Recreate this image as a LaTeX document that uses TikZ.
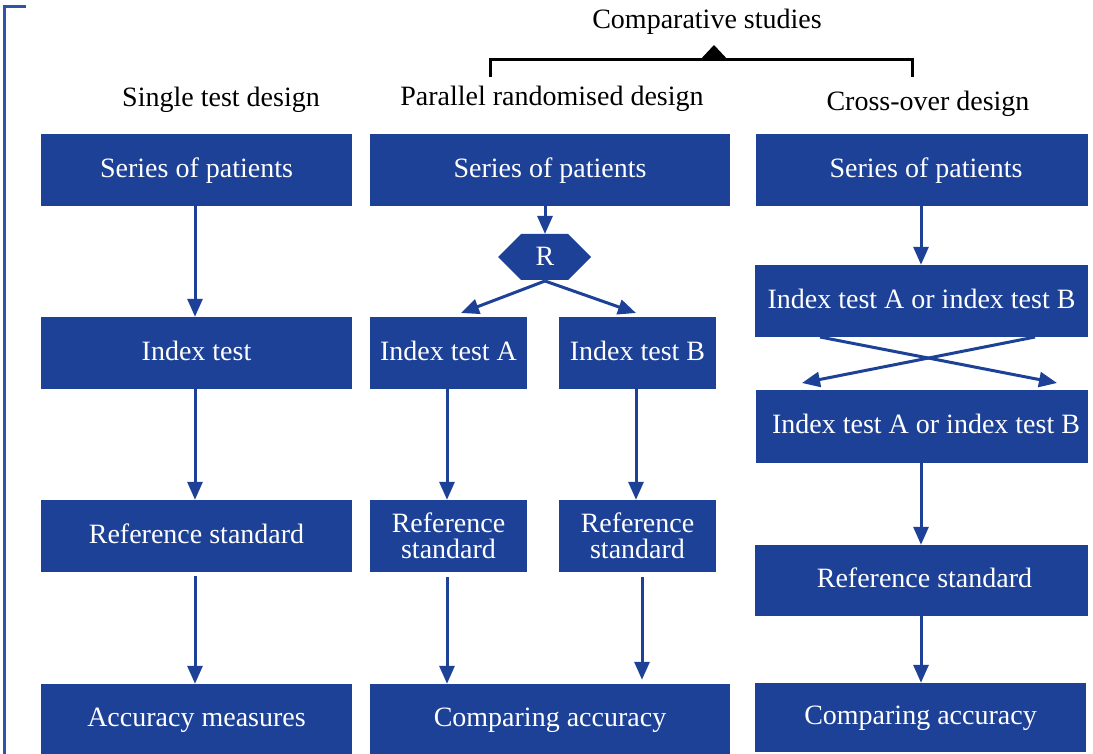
\documentclass[tikz,border=0pt]{standalone}
\usepackage{fontspec}
\setmainfont{Liberation Serif}
\usetikzlibrary{arrows.meta,calc}
\definecolor{boxblue}{RGB}{29,65,151}
\definecolor{lineblue}{RGB}{48,82,168}
\begin{document}
\begin{tikzpicture}[x=1pt,y=-1pt,
  boxbase/.style={fill=boxblue, text=white, font=\fontsize{28}{26}\selectfont,
    inner sep=0pt, align=center},
  box/.style={boxbase, text height=18.5pt, text depth=4pt},
  head/.style={text=black, font=\fontsize{28}{30}\selectfont, inner sep=0pt, anchor=base},
  arr/.style={draw=boxblue, line width=3pt, -{Triangle[length=18pt,width=15pt]}},
  brk/.style={draw=black, line width=3pt}
]
\useasboundingbox (0,0) rectangle (1093,754);

% left bracket
\draw[lineblue, line width=3pt] (26,7) -- (4,7) -- (4,754);

% top bracket
\node[head] (comp) at (707,29) {Comparative studies};
\draw[brk] (490,77) -- (490,60) -- (912,60) -- (912,77);
\fill[black] (699,61) -- (714,45) -- (729,61) -- cycle;

% headers
\node[head] (h1) at (221,107) {Single test design};
\node[head] (h2) at (552,106) {Parallel randomised design};
\node[head] (h3) at (928,111) {Cross-over design};

% column 1
\node[box, minimum width=311pt, minimum height=72pt] (s1) at (196.5,170) {Series of patients};
\node[box, minimum width=311pt, minimum height=72pt] (i1) at (196.5,353) {Index test};
\node[box, minimum width=311pt, minimum height=72pt] (r1) at (196.5,536) {Reference standard};
\node[box, minimum width=311pt, minimum height=70pt] (a1) at (196.5,719) {Accuracy measures};

\draw[arr] (s1.south) ++(-1.5,0) coordinate (s1o) -- (s1o |- i1.north);
\draw[arr] (i1.south) ++(-1.5,0) coordinate (i1o) -- (i1o |- r1.north);
\draw[arr] (r1.south) ++(-1.5,4) coordinate (r1o) -- (r1o |- a1.north);

% column 2
\node[box, minimum width=360pt, minimum height=72pt] (s2) at (550,170) {Series of patients};
\fill[boxblue] (498,257) -- (521,234) -- (568,234) -- (591,257) -- (568,280) -- (521,280) -- cycle;
\coordinate (hexTop) at (545,234);
\coordinate (hexBot) at (545,281);
\node[text=white, font=\fontsize{28}{30}\selectfont, inner sep=0pt] (R) at (545,256) {R};
\node[box, minimum width=157pt, minimum height=72pt] (ia) at (448.5,353) {Index test A};
\node[box, minimum width=157pt, minimum height=72pt] (ib) at (637.5,353) {Index test B};
\node[boxbase, minimum width=157pt, minimum height=72pt] (ra) at (448.5,536) {Reference\\standard};
\node[boxbase, minimum width=157pt, minimum height=72pt] (rb) at (637.5,536) {Reference\\standard};
\node[box, minimum width=360pt, minimum height=70pt] (c2) at (550,719) {Comparing accuracy};
\coordinate (ta) at (461,313);
\coordinate (tb) at (636,313);

\draw[arr] (s2.south -| hexTop) -- (hexTop);
\draw[arr] (hexBot) -- (ta);
\draw[arr] (hexBot) -- (tb);
\draw[arr] (ia.south) ++(-1.5,0) coordinate (iao) -- (iao |- ra.north);
\draw[arr] (ib.south) ++(-1.5,0) coordinate (ibo) -- (ibo |- rb.north);
\draw[arr] (ra.south) ++(-1.5,5) coordinate (rao) -- (rao |- c2.north);
\draw[arr] (rb.south) ++(4.5,5) coordinate (rbo) -- ($(rbo |- c2.north)+(0,-4)$);

% column 3
\node[box, minimum width=332pt, minimum height=72pt] (s3) at (922,170) {\hspace*{8pt}Series of patients};
\node[box, minimum width=333pt, minimum height=72pt] (x1) at (921.5,301) {Index test A or index test B};
\node[box, minimum width=332pt, minimum height=73pt] (x2) at (922,426.5) {\hspace*{8pt}Index test A or index test B};
\node[box, minimum width=333pt, minimum height=71pt] (r3) at (921.5,580.5) {\hspace*{6pt}Reference standard};
\node[box, minimum width=331pt, minimum height=69pt] (c3) at (920.5,717.5) {Comparing accuracy};

\coordinate (xa) at (820,337);
\coordinate (xb) at (1035,337);
\coordinate (ya) at (1057,383);
\coordinate (yb) at (802,383);

\draw[arr] (s3.south) ++(-1,0) coordinate (s3o) -- (s3o |- x1.north);
\draw[arr] (xa) -- (ya);
\draw[arr] (xb) -- (yb);
\draw[arr] (x2.south) ++(-1,0) coordinate (x2o) -- (x2o |- r3.north);
\draw[arr] (r3.south) ++(-0.5,0) coordinate (r3o) -- (r3o |- c3.north);
\end{tikzpicture}
\end{document}
